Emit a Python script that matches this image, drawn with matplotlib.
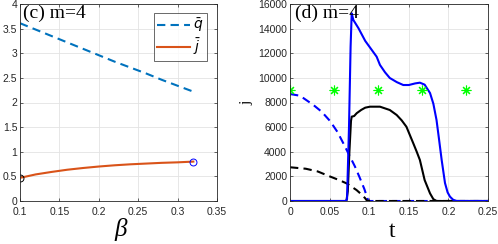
import matplotlib
matplotlib.use("Agg")
import matplotlib.pyplot as plt
import numpy as np

# Panel (c)
beta = [0.10, 0.12, 0.14, 0.16, 0.18, 0.20, 0.22, 0.24, 0.26, 0.28, 0.30, 0.32]
qbar = [3.61, 3.48, 3.35, 3.22, 3.09, 2.96, 2.83, 2.71, 2.59, 2.46, 2.34, 2.22]
jbar = [0.47, 0.54, 0.59, 0.635, 0.67, 0.70, 0.725, 0.745, 0.76, 0.775, 0.785, 0.80]

# Panel (d)
t_bs = [0.0, 0.0705, 0.0720, 0.0745, 0.0765, 0.0779, 0.0800, 0.0863, 0.095, 0.1094, 0.1136,
        0.120, 0.126, 0.135, 0.143, 0.150, 0.158, 0.164, 0.170, 0.1768, 0.181, 0.185,
        0.188, 0.1915, 0.1957, 0.199, 0.202, 0.206, 0.2104, 0.25]
j_bs = [0, 0, 150, 6000, 12500, 15240, 14700, 14050, 13000, 11720, 11050,
        10450, 9990, 9650, 9420, 9420, 9550, 9610, 9450, 8770, 7900, 6580,
        5100, 3330, 1460, 700, 350, 100, 0, 0]
t_ks = [0.0, 0.0712, 0.0730, 0.0750, 0.0770, 0.0779, 0.0810, 0.0842, 0.090, 0.095, 0.101,
        0.1136, 0.126, 0.1347, 0.141, 0.147, 0.1557, 0.160, 0.164, 0.170, 0.1768,
        0.181, 0.185, 0.25]
j_ks = [0, 0, 800, 4000, 6500, 6850, 6900, 7130, 7400, 7580, 7660,
        7660, 7390, 6985, 6550, 6030, 4680, 4000, 3330, 1700, 620,
        150, 0, 0]
t_bd = [0.0, 0.0126, 0.0295, 0.0400, 0.0505, 0.0600, 0.0673, 0.0758, 0.0820, 0.0880, 0.0940, 0.0989, 0.25]
j_bd = [8690, 8550, 7800, 7250, 6500, 5600, 4690, 3600, 2800, 1900, 950, 0, 0]
t_kd = [0.0, 0.0200, 0.0350, 0.0505, 0.0620, 0.0715, 0.0780, 0.0840, 0.0900, 0.0947, 0.0975, 0.25]
j_kd = [2740, 2620, 2400, 1990, 1700, 1430, 1150, 890, 550, 240, 0, 0]
t_star = [0.0, 0.0556, 0.1111, 0.1667, 0.2222]
j_star = [9000, 9000, 9000, 9000, 9000]

plt.rcParams['font.family'] = ['Liberation Sans', 'DejaVu Sans']
fig = plt.figure(figsize=(4.98, 2.44), dpi=100)

ax1 = fig.add_axes([20/498, 1-201/244, (217-20)/498, (201-4)/244])
ax2 = fig.add_axes([290/498, 1-201/244, (488-290)/498, (201-4)/244])

blue_m = '#0072BD'
orange_m = '#D95319'
for ax in (ax1, ax2):
    ax.grid(True, color='#e3e3e3', linewidth=0.6)
    ax.set_axisbelow(True)
    ax.tick_params(labelsize=7.5, length=2, width=0.5, direction='in', colors='#262626')
    ax.tick_params(axis='x', pad=4.5)
    ax.tick_params(axis='y', pad=2)
    for s in ax.spines.values():
        s.set_linewidth(0.6)
        s.set_color('#262626')
    ax.tick_params(top=True, right=True)

ax1.plot(beta, qbar, '--', color=blue_m, lw=1.5, dashes=(4, 2.5), label=r'$\bar{q}$')
ax1.plot(beta, jbar, '-', color=orange_m, lw=1.5, label=r'$\bar{j}$')
ax1.plot([beta[0]], [jbar[0]], 'o', mfc='none', mec='k', ms=5, mew=0.7)
ax1.plot([beta[-1]], [jbar[-1]], 'o', mfc='none', mec='blue', ms=5, mew=0.7)
ax1.set_xlim(0.1, 0.35)
ax1.set_ylim(0, 4)
ax1.set_xticks([0.1, 0.15, 0.2, 0.25, 0.3, 0.35])
ax1.set_xticklabels(['0.1', '0.15', '0.2', '0.25', '0.3', '0.35'])
ax1.set_yticks([0, 0.5, 1, 1.5, 2, 2.5, 3, 3.5, 4])
ax1.set_yticklabels(['0', '0.5', '1', '1.5', '2', '2.5', '3', '3.5', '4'])
ax1.set_xlabel('β', fontsize=18, family='Liberation Serif', style='italic', va='baseline')
ax1.xaxis.set_label_coords(0.51, -0.18)
ax1.text(0.015, 0.995, '(c) m=4', transform=ax1.transAxes, ha='left', va='top',
         fontsize=14, family='Liberation Serif')
leg = ax1.legend(loc='upper right', bbox_to_anchor=(0.949, 0.954), fontsize=10,
                 frameon=True, fancybox=False, edgecolor='#262626', handlelength=2.4,
                 borderpad=0.25, labelspacing=0.15, handletextpad=0.2, borderaxespad=0)
leg.get_frame().set_linewidth(0.6)

ax2.plot(t_bd, j_bd, '--', color='blue', lw=1.5, dashes=(4, 2.5))
ax2.plot(t_kd, j_kd, '--', color='black', lw=1.5, dashes=(4, 2.5))
ax2.plot(t_ks, j_ks, '-', color='black', lw=1.5)
ax2.plot(t_bs, j_bs, '-', color='blue', lw=1.5)
ax2.plot(t_star, j_star, linestyle='none', marker=(8, 2, 0), color='#00ff00',
         mec='#00ff00', ms=7, mew=0.8)
ax2.set_xlim(0, 0.25)
ax2.set_ylim(0, 16000)
ax2.set_xticks([0, 0.05, 0.1, 0.15, 0.2, 0.25])
ax2.set_xticklabels(['0', '0.05', '0.1', '0.15', '0.2', '0.25'])
ax2.set_yticks(np.arange(0, 16001, 2000))
ax2.set_xlabel('t', fontsize=17, family='Liberation Serif', va='baseline')
ax2.xaxis.set_label_coords(0.515, -0.185)
ax2.set_ylabel('j', fontsize=11, family='Liberation Serif')
ax2.yaxis.set_label_coords(-0.187, 0.50)
ax2.text(0.025, 0.995, '(d) m=4', transform=ax2.transAxes, ha='left', va='top',
         fontsize=14, family='Liberation Serif')

fig.savefig('out.png', dpi=100)
